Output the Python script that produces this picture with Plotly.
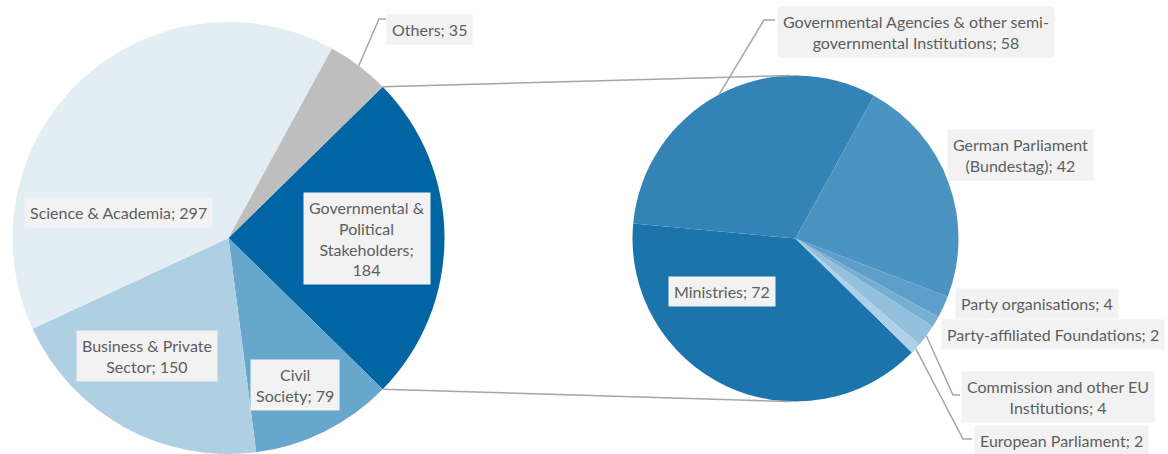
import numpy as np
import plotly.graph_objects as go

W, H = 1168, 454

# Stakeholder groups (main pie), clockwise from the political slice
main_names = ["Governmental &<br>Political<br>Stakeholders", "Civil<br>Society",
              "Business & Private<br>Sector", "Science & Academia", "Others"]
main_seps = [";<br>", "; ", "; ", "; ", "; "]
main_values = [184, 79, 150, 297, 35]
main_colors = ["#0065A2", "#68A7CC", "#AFCFE3", "#E3EDF4", "#BEBEBE"]

# Breakdown of the governmental & political group (secondary pie)
gov_names = ["Ministries", "Governmental Agencies & other semi-<br>governmental Institutions",
             "German Parliament<br>(Bundestag)", "Party organisations",
             "Party-affiliated Foundations", "Commission and other EU<br>Institutions",
             "European Parliament"]
gov_values = [72, 58, 42, 4, 2, 4, 2]
gov_colors = ["#1B75AC", "#3383B7", "#4B93C0", "#5E9FC9", "#77AFD3", "#92C0DD", "#AED1E7"]

# Pie geometry in pixels
C1, R1, ROT1 = (228.5, 238.0), 216.0, 45.55
C2, R2, ROT2 = (795.5, 238.5), 163.0, 134.43

LINE = "#A6A6A6"
TXT = "#5E5E5E"
BOX = "#F2F2F2"
FONT = "Lato"


def domain(c, r):
    cx, cy = c
    return dict(x=[(cx - r) / W, (cx + r) / W], y=[(H - cy - r) / H, (H - cy + r) / H])


def point(c, r, rot, frac, scale=1.0):
    a = np.radians(rot + 360.0 * frac)
    return c[0] + r * scale * np.sin(a), c[1] - r * scale * np.cos(a)


def mid_fracs(values):
    v = np.asarray(values, float)
    cum = np.cumsum(v) / v.sum()
    return cum - v / v.sum() / 2, cum


fig = go.Figure()
fig.add_trace(go.Scatter(x=[0, W], y=[0, H], mode="markers", marker=dict(opacity=0),
                         hoverinfo="skip", showlegend=False))
fig.add_trace(go.Pie(values=main_values, marker=dict(colors=main_colors, line=dict(width=0)),
                     sort=False, direction="clockwise", rotation=ROT1, textinfo="none",
                     hoverinfo="skip", showlegend=False, domain=domain(C1, R1)))
fig.add_trace(go.Pie(values=gov_values, marker=dict(colors=gov_colors, line=dict(width=0)),
                     sort=False, direction="clockwise", rotation=ROT2, textinfo="none",
                     hoverinfo="skip", showlegend=False, domain=domain(C2, R2)))

shapes = []


def seg(pts):
    path = "M " + " L ".join(f"{x:.2f},{y:.2f}" for x, y in pts)
    shapes.append(dict(type="path", path=path, xref="x", yref="y",
                       line=dict(color=LINE, width=1.5), layer="above"))


# Connectors from the political slice to the breakdown pie
main_total = sum(main_values)
p_start = point(C1, R1, ROT1, 0.0)
p_end = point(C1, R1, ROT1, main_values[0] / main_total)
seg([p_start, (C2[0] - 5, C2[1] - R2)])
seg([p_end, (C2[0] - 5, C2[1] + R2)])

main_mid, _ = mid_fracs(main_values)
gov_mid, _ = mid_fracs(gov_values)

# Label placement (centre x, centre y) and optional leader elbow
main_pos = [(367, 238), (295, 385), (146.5, 356), (118.5, 212), (429.5, 29)]
main_leader = {4: [(379, 19), (386, 19)]}
gov_pos = [(722, 291), (915.5, 31.5), (1020.5, 155), (1036.5, 303.5),
           (1052.5, 334.5), (1057.5, 396.5), (1061, 440)]
gov_leader = {1: [(764, 20), (775, 20)], 5: [(953, 395), (960, 395)],
              6: [(963, 439), (972, 439)]}

for i, pts in main_leader.items():
    seg([point(C1, R1, ROT1, main_mid[i])] + pts)
for i, pts in gov_leader.items():
    seg([point(C2, R2, ROT2, gov_mid[i])] + pts)

annotations = []


def label(text, pos):
    annotations.append(dict(text=text, x=pos[0], y=pos[1], xref="x", yref="y",
                            xanchor="center", yanchor="middle", showarrow=False,
                            bgcolor=BOX, borderpad=5, align="center",
                            font=dict(family=FONT, size=16, color=TXT)))


for n, s, v, p in zip(main_names, main_seps, main_values, main_pos):
    label(f"{n}{s}{v}", p)
for n, v, p in zip(gov_names, gov_values, gov_pos):
    label(f"{n}; {v}", p)

fig.update_layout(
    width=W, height=H, autosize=False,
    margin=dict(l=0, r=0, t=0, b=0),
    paper_bgcolor="white", plot_bgcolor="rgba(0,0,0,0)",
    xaxis=dict(range=[0, W], domain=[0, 1], visible=False, fixedrange=True),
    yaxis=dict(range=[H, 0], domain=[0, 1], visible=False, fixedrange=True),
    shapes=shapes, annotations=annotations,
    font=dict(family=FONT),
)

fig.write_html("out.html")
